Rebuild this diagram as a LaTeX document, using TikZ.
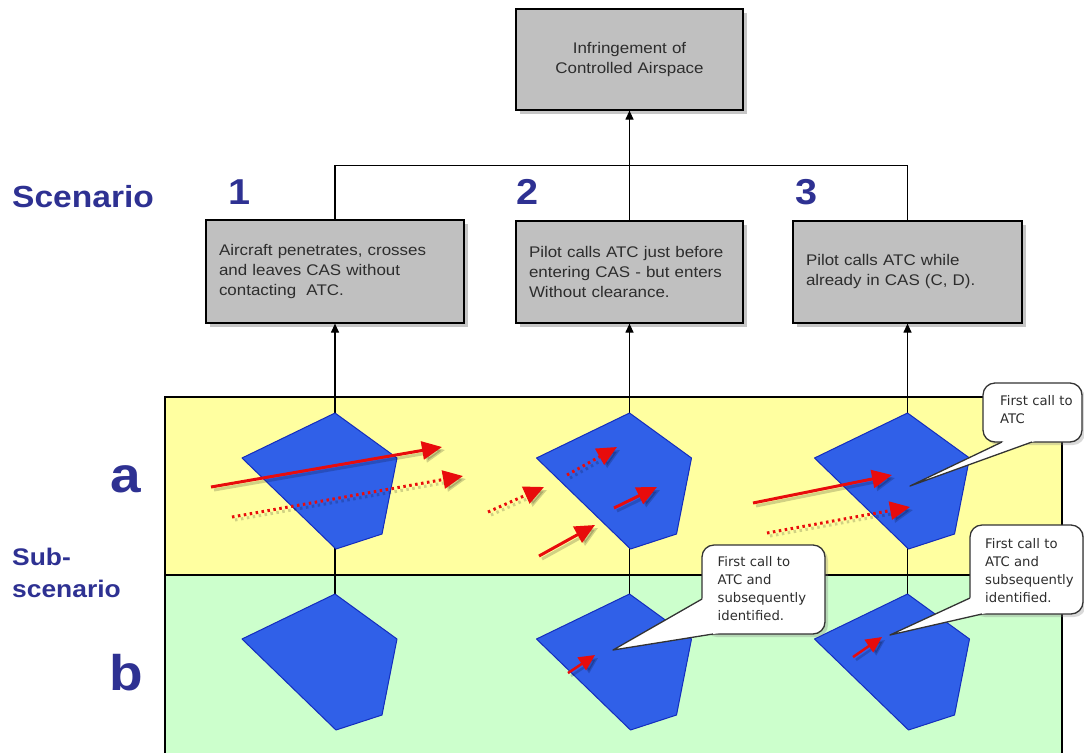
\documentclass[tikz,border=0pt]{standalone}
\usepackage{fontspec}
\usetikzlibrary{arrows.meta,shadows,calc}
\newfontfamily\boxfont[FakeStretch=1.1]{Liberation Sans}
\newfontfamily\callfont{DejaVu Sans}
\definecolor{labblue}{RGB}{46,49,146}
\definecolor{boxgray}{RGB}{192,192,192}
\definecolor{txtgray}{RGB}{45,45,45}
\definecolor{bandyellow}{RGB}{255,255,160}
\definecolor{bandgreen}{RGB}{204,255,204}
\definecolor{casblue}{RGB}{48,96,232}
\definecolor{casedge}{RGB}{20,45,190}
\definecolor{arrred}{RGB}{232,12,12}
\definecolor{shadowol}{RGB}{70,70,20}
\newcommand\casarea[1]{%
  \fill[shadowol,opacity=0.12,shift={(7pt,-7pt)}] (#1) -- ++(62,45) -- ++(-15,76) -- ++(-46,15) -- ++(-94,-91) -- cycle;
  \fill[shadowol,opacity=0.18,shift={(4.5pt,-4.5pt)}] (#1) -- ++(62,45) -- ++(-15,76) -- ++(-46,15) -- ++(-94,-91) -- cycle;
  \path[caspoly] (#1) -- ++(62,45) -- ++(-15,76) -- ++(-46,15) -- ++(-94,-91) -- cycle;}
\newcommand\redarrow[3]{\draw[#1,draw=black,opacity=0.18,shift={(3pt,-3pt)}] #2 -- #3; \draw[#1] #2 -- #3;}
\begin{document}
\begin{tikzpicture}[x=1pt,y=-1pt,
  conn/.style={draw=black, line width=1.2pt},
  tipped/.style={-{Triangle[length=9pt,width=8pt]}},
  graybox/.style={draw=black, line width=1.2pt, fill=boxgray,
    drop shadow={shadow xshift=4pt, shadow yshift=-4pt, opacity=0.45},
    font=\boxfont\fontsize{15.4}{20}\selectfont, text=txtgray, align=left, inner xsep=13pt},
  caspoly/.style={fill=casblue, draw=casedge, line width=1pt, line join=round},
  solidarr/.style={draw=arrred, line width=3pt, -{Triangle[length=20pt,width=18pt]}},
  dotarr/.style={solidarr, dash pattern=on 2.5pt off 3.5pt},
  smallarr/.style={draw=arrred, line width=2.5pt, -{Triangle[length=16pt,width=15pt]}},
  lab/.style={text=labblue, inner sep=0},
  callbox/.style={draw=black!80, line width=1.3pt, fill=white, rounded corners=12pt,
    drop shadow={shadow xshift=3pt, shadow yshift=-3pt, opacity=0.3}, inner sep=0},
  calltext/.style={font=\callfont\fontsize{13.2}{18}\selectfont, text=txtgray, inner sep=0, align=left, text width=100pt, anchor=north west},
  callline/.style={draw=black!80, line width=1.3pt, line join=round}
]
\useasboundingbox (0,0) rectangle (1084,753);
% bands
\fill[bandyellow] (165,397) rectangle (1062,575);
\fill[bandgreen] (165,575) rectangle (1062,753);
\draw[conn] (165,753) -- (165,397) -- (1062,397) -- (1062,753);
\draw[conn] (165,575) -- (1062,575);

% boxes
\node[graybox, align=center, minimum width=227pt, minimum height=101pt, text width=201pt] (top) at (629.5,59.5) {Infringement of\\Controlled Airspace};
\node[graybox, minimum width=258pt, minimum height=103pt, text width=232pt] (s1) at (335,271.5) {Aircraft penetrates, crosses\\and leaves CAS without\\contacting~ ATC.};
\node[graybox, minimum width=227pt, minimum height=102pt, text width=201pt] (s2) at (629.5,272) {Pilot calls ATC just before\\entering CAS - but enters\\Without clearance.};
\node[graybox, minimum width=229pt, minimum height=102pt, text width=203pt] (s3) at (907.5,272) {Pilot calls ATC while\\already in CAS (C, D).};

% polygon tops
\coordinate (p1a) at (335,413);
\coordinate (p2a) at (629.5,413);
\coordinate (p3a) at (907.5,413);
\coordinate (p1b) at (335,594);
\coordinate (p2b) at (629.5,594);
\coordinate (p3b) at (907.5,594);

% connectors
\draw[conn] (s1.north) -- ++(0,-54) -| (s3.north);
\draw[conn,tipped] (s2.north) -- (top.south);
\draw[conn,tipped] (p1a) -- (s1.south);
\draw[conn,tipped] (p2a) -- (s2.south);
\draw[conn,tipped] (p3a) -- (s3.south);
\draw[conn] (p1b) -- (p1a);
\draw[conn] (p2b) -- (p2a);
\draw[conn] (p3b) -- (p3a);

% airspace polygons
\casarea{p1a}
\casarea{p2a}
\casarea{p3a}
\casarea{p1b}
\casarea{p2b}
\casarea{p3b}

% red tracks
\redarrow{solidarr}{(211,487)}{(442,447)}
\redarrow{dotarr}{(232,517)}{(463,476)}
\redarrow{dotarr}{(567,475)}{(617,447)}
\redarrow{dotarr}{(488,512)}{(544,487)}
\redarrow{solidarr}{(614,508)}{(657,487)}
\redarrow{solidarr}{(539,556)}{(595,525)}
\redarrow{solidarr}{(753,503)}{(892,475)}
\redarrow{dotarr}{(767,533)}{(910,507)}
\redarrow{smallarr}{(568,673)}{(595,655)}
\redarrow{smallarr}{(853,657)}{(882,637)}

% callouts
\node[callbox, minimum width=99pt, minimum height=59pt] (cA) at (1032.5,412.5) {};
\coordinate (cAtip) at (910,486);
\coordinate (cA1) at (1002,442);
\coordinate (cA2) at (1032,442);
\fill[white] (cAtip) -- ($(cAtip)!1.06!(cA1)$) -- ($(cAtip)!1.06!(cA2)$) -- cycle;
\draw[callline] (cA1) -- (cAtip) -- (cA2);
\node[calltext] (cAt) at (1000,395) {First call to\\ATC};

\node[callbox, minimum width=123pt, minimum height=89pt] (cB) at (763.5,589.5) {};
\coordinate (cBtip) at (613,650);
\coordinate (cB1) at (702,599);
\coordinate (cB2) at (713,634);
\fill[white] (cBtip) -- ($(cBtip)!1.08!(cB1)$) -- ($(cBtip)!1.08!(cB2)$) -- cycle;
\draw[callline] (cB1) -- (cBtip) -- (cB2);
\node[calltext] (cBt) at (717.5,556.7) {First call to\\ATC and\\subsequently\\identified.};

\node[callbox, minimum width=113pt, minimum height=89pt] (cC) at (1026.5,569.5) {};
\coordinate (cCtip) at (890,635);
\coordinate (cC1) at (970,598);
\coordinate (cC2) at (982,614);
\fill[white] (cCtip) -- ($(cCtip)!1.08!(cC1)$) -- ($(cCtip)!1.08!(cC2)$) -- cycle;
\draw[callline] (cC1) -- (cCtip) -- (cC2);
\node[calltext] (cCt) at (985,538.3) {First call to\\ATC and\\subsequently\\identified.};

% labels
\node[lab, anchor=base west, font=\boxfont\bfseries\fontsize{30.5}{34}\selectfont] (scen) at (12,207) {Scenario};
\node[lab, anchor=base, font=\boxfont\bfseries\fontsize{36}{40}\selectfont] (n1) at (240,204) {1};
\node[lab, anchor=base, font=\boxfont\bfseries\fontsize{36}{40}\selectfont] (n2) at (528,204) {2};
\node[lab, anchor=base, font=\boxfont\bfseries\fontsize{36}{40}\selectfont] (n3) at (807,204) {3};
\node[lab, anchor=base, font=\boxfont\bfseries\fontsize{50}{54}\selectfont] (la) at (126,492) {a};
\node[lab, anchor=base, font=\boxfont\bfseries\fontsize{50}{54}\selectfont] (lb) at (126,690) {b};
\node[lab, anchor=base west, font=\boxfont\bfseries\fontsize{24}{30}\selectfont] (sub1) at (12,565) {Sub-};
\node[lab, anchor=base west, font=\boxfont\bfseries\fontsize{24}{30}\selectfont] (sub2) at (12,597) {scenario};
\end{tikzpicture}
\end{document}
